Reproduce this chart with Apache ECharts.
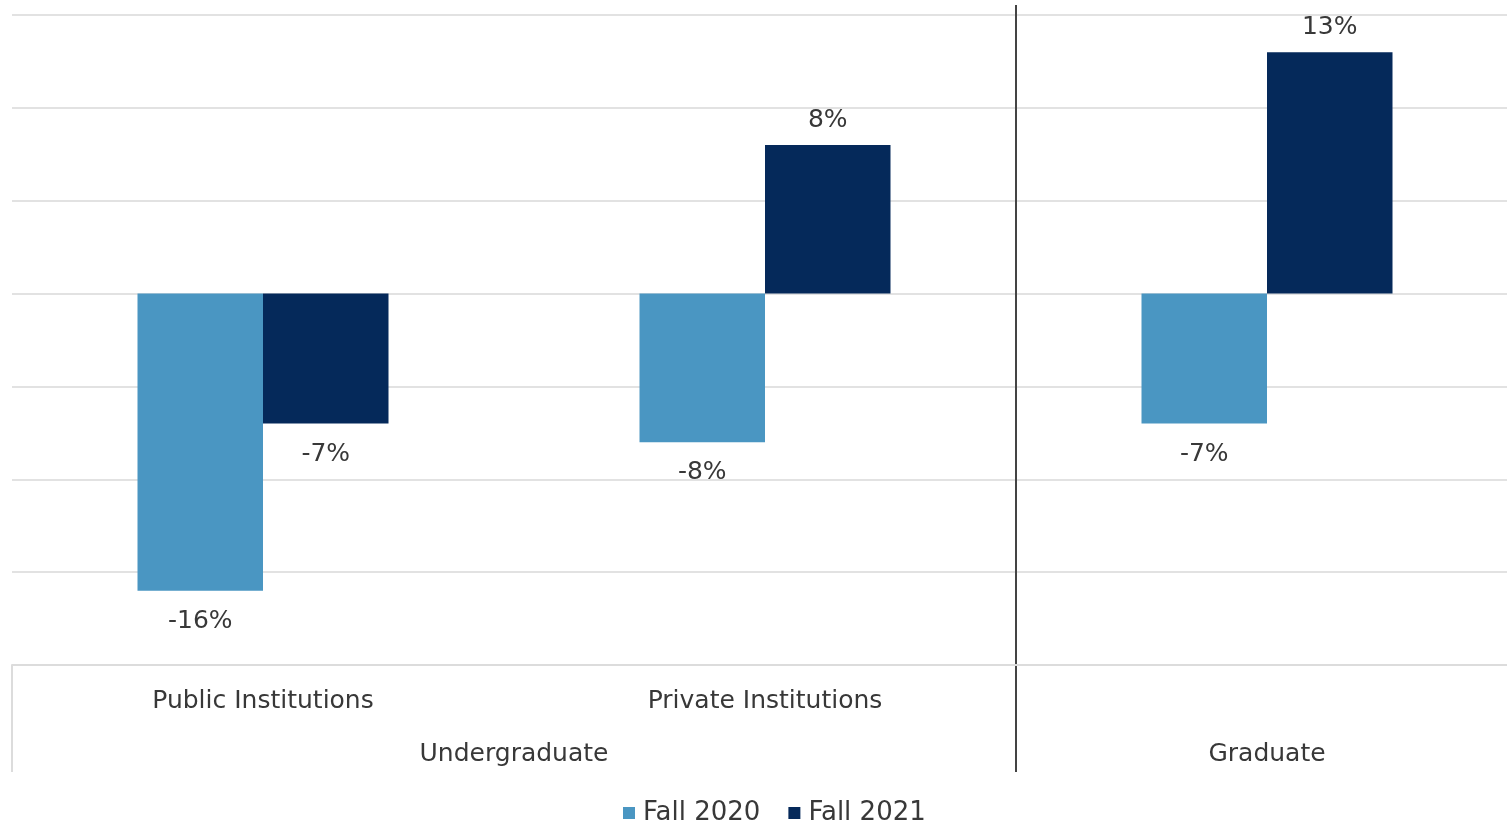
<!DOCTYPE html>
<html>
<head>
<meta charset="utf-8">
<script src="https://cdn.jsdelivr.net/npm/echarts@6/dist/echarts.min.js"></script>
<style>
  html, body { margin: 0; padding: 0; background: #fff; }
  #chart { width: 1507px; height: 824px; }
</style>
</head>
<body>
<div id="chart"></div>
<script>
// Enrollment change by institution type (percent)
const categories = ['Public Institutions', 'Private Institutions', ''];
const groupNames = ['Undergraduate', 'Graduate'];
const groupOfCategory = [0, 0, 1];
const seriesNames = ['Fall 2020', 'Fall 2021'];
const fall2020 = [-16, -8, -7];
const fall2021 = [-7, 8, 13];

const FONT = '"DejaVu Sans", "Noto Sans", sans-serif';
const FS = 25;
const TEXT = '#383838';
const colors = ['#4a96c2', '#05295a'];

const chart = echarts.init(document.getElementById('chart'));

function seriesData(values) {
  return values.map(v => ({
    value: v,
    label: v < 0 ? { position: 'bottom', distance: 18 } : { position: 'top', distance: 12 }
  }));
}

function barSeries(name, values) {
  return {
    name: name, type: 'bar', barWidth: '25%', barGap: '0%',
    label: {
      show: true, fontFamily: FONT, fontSize: FS, color: TEXT,
      formatter: p => p.value + '%'
    },
    data: seriesData(values)
  };
}

chart.setOption({
  animation: false,
  color: colors,
  grid: { left: 12, width: 1506, top: 15, bottom: 159, containLabel: false, outerBoundsMode: 'none' },
  legend: {
    top: 795,
    left: 618,
    icon: 'rect',
    itemWidth: 12,
    itemHeight: 12,
    itemGap: 28,
    textStyle: { fontFamily: FONT, fontSize: 26, color: TEXT, padding: [0, 0, 0, 3] },
    data: seriesNames
  },
  xAxis: {
    type: 'category',
    data: categories,
    axisLine: { show: true, onZero: false, lineStyle: { color: '#dcdcdc', width: 2 } },
    axisTick: { show: false },
    axisLabel: { margin: 24, fontFamily: FONT, fontSize: FS, color: TEXT },
    splitLine: { show: false }
  },
  yAxis: {
    type: 'value',
    min: -20,
    max: 15,
    interval: 5,
    axisLabel: { show: false },
    axisLine: { show: false },
    axisTick: { show: false },
    splitLine: { lineStyle: { color: '#e2e2e2', width: 2 } }
  },
  series: [
    barSeries(seriesNames[0], fall2020),
    barSeries(seriesNames[1], fall2021)
  ]
});

// Group captions and separators under the category axis
function drawGroups() {
  const xs = categories.map((c, i) => chart.convertToPixel({ xAxisIndex: 0 }, i));
  const step = xs[1] - xs[0];
  const axisY = chart.convertToPixel({ yAxisIndex: 0 }, -20);
  const topY = chart.convertToPixel({ yAxisIndex: 0 }, 15);
  const bottomY = axisY + 107;
  const els = [];

  groupNames.forEach((name, g) => {
    const idx = groupOfCategory.map((v, i) => v === g ? i : -1).filter(i => i >= 0);
    const cx = (xs[idx[0]] + xs[idx[idx.length - 1]]) / 2;
    els.push({
      type: 'text',
      x: cx, y: axisY + 89,
      style: {
        text: name, fontFamily: FONT, fontSize: FS, fill: TEXT,
        align: 'center', verticalAlign: 'middle'
      }
    });
  });

  // left border of the label area
  const leftX = xs[0] - step / 2;
  els.push({
    type: 'line',
    shape: { x1: leftX, y1: axisY, x2: leftX, y2: bottomY },
    style: { stroke: '#dcdcdc', lineWidth: 2 }
  });

  // divider between groups
  for (let i = 1; i < categories.length; i++) {
    if (groupOfCategory[i] !== groupOfCategory[i - 1]) {
      const x = (xs[i - 1] + xs[i]) / 2;
      els.push({
        type: 'line',
        shape: { x1: x, y1: topY - 10, x2: x, y2: bottomY },
        style: { stroke: '#444444', lineWidth: 2 }
      });
    }
  }
  chart.setOption({ graphic: { elements: els } });
}
drawGroups();
</script>
</body>
</html>
